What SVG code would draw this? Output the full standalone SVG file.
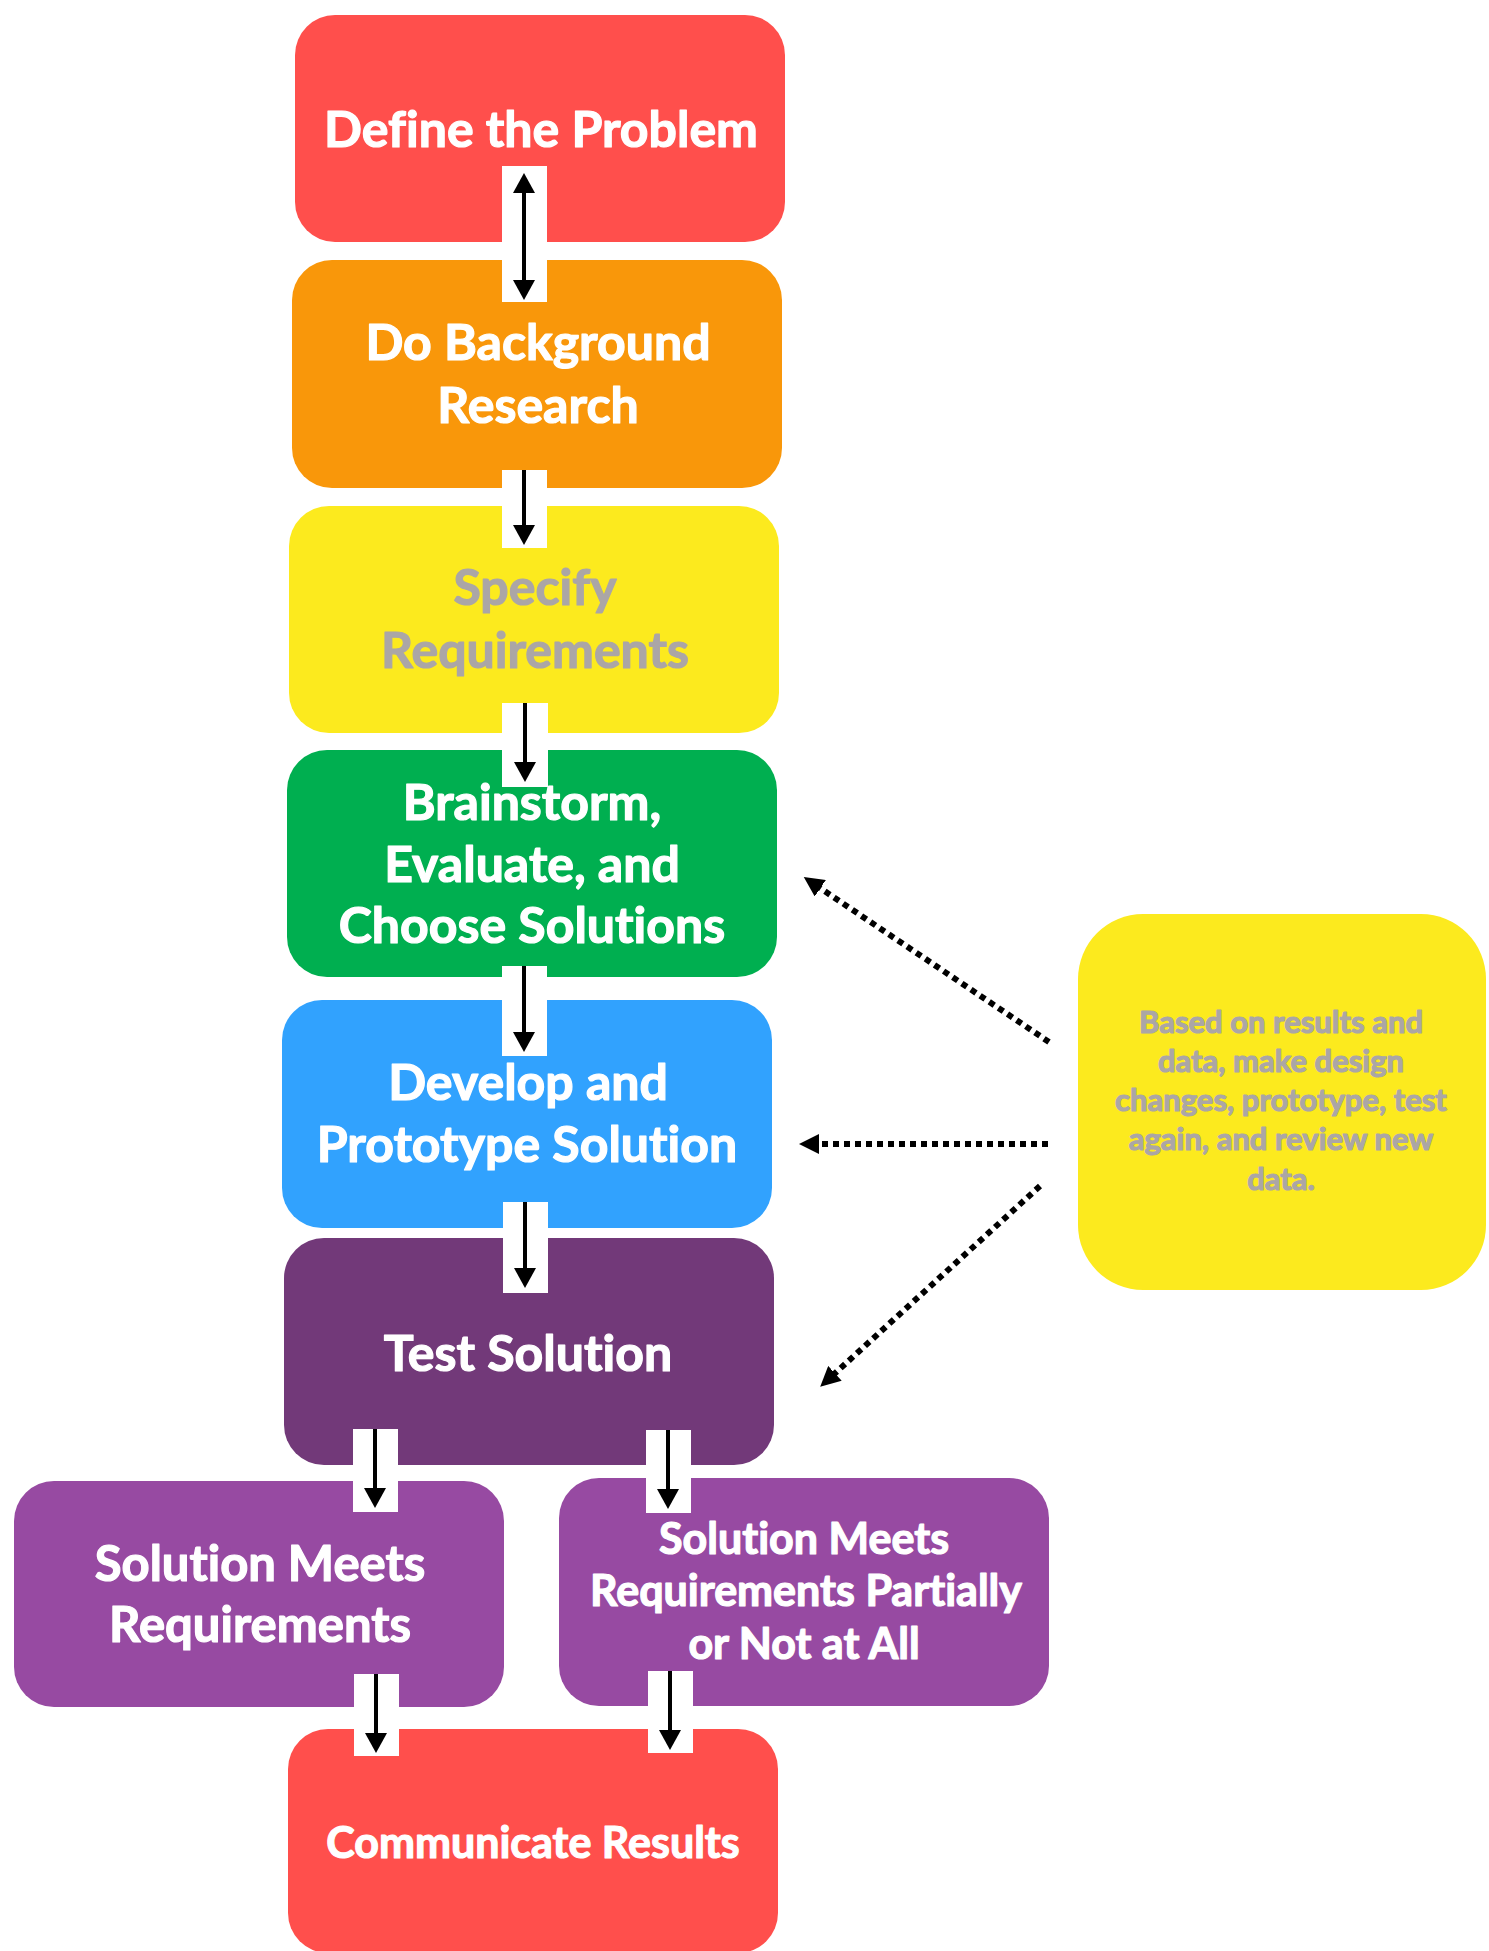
<svg xmlns="http://www.w3.org/2000/svg" width="1489" height="1951" viewBox="0 0 1489 1951">
<style>
.lbl{font-family:Lato,"Noto Sans","Liberation Sans",sans-serif;font-weight:700;text-anchor:middle;fill:#ffffff;stroke:#ffffff;stroke-width:1.2;stroke-linejoin:round;font-variant-ligatures:none;font-feature-settings:"liga" 0}
.grey{fill:#aba6a6;stroke:#aba6a6}
.gap{fill:#ffffff}
.solid{stroke:#000;stroke-width:4;fill:none}
.dot{stroke:#000;stroke-width:6;fill:none;stroke-dasharray:6 5}
</style>
<defs>
<marker id="ah" markerUnits="userSpaceOnUse" markerWidth="20" markerHeight="22" viewBox="0 0 20 22" refX="8" refY="11" orient="auto-start-reverse"><path d="M0,0 L20,11 L0,22 z" fill="#000"/></marker>
<marker id="ahd" markerUnits="userSpaceOnUse" markerWidth="20" markerHeight="20" viewBox="0 0 20 20" refX="4" refY="10" orient="auto"><path d="M0,0 L20,10 L0,20 z" fill="#000"/></marker>
</defs>
<rect width="1489" height="1951" fill="#ffffff"/>
<g id="define">
<rect x="295" y="15" width="490" height="227" rx="40" fill="#ff4f4c"/>
<text class="lbl" x="541" y="147" font-size="50">Define the Problem</text>
</g>
<g id="research">
<rect x="292" y="260" width="490" height="228" rx="40" fill="#f9970a"/>
<text class="lbl" x="538" y="360" font-size="50">Do Background</text>
<text class="lbl" x="538" y="423" font-size="50">Research</text>
</g>
<g id="specify">
<rect x="289" y="506" width="490" height="227" rx="40" fill="#fcea1e"/>
<text class="lbl grey" x="535" y="605" font-size="50">Specify</text>
<text class="lbl grey" x="535" y="668" font-size="50">Requirements</text>
</g>
<g id="brainstorm">
<rect x="287" y="750" width="490" height="227" rx="40" fill="#00af50"/>
<text class="lbl" x="532" y="820" font-size="50">Brainstorm,</text>
<text class="lbl" x="532" y="882" font-size="50">Evaluate, and</text>
<text class="lbl" x="532" y="943" font-size="50">Choose Solutions</text>
</g>
<g id="develop">
<rect x="282" y="1000" width="490" height="228" rx="40" fill="#31a2fe"/>
<text class="lbl" x="528" y="1100" font-size="50">Develop and</text>
<text class="lbl" x="527" y="1162" font-size="50">Prototype Solution</text>
</g>
<g id="test">
<rect x="284" y="1238" width="490" height="227" rx="40" fill="#723979"/>
<text class="lbl" x="528" y="1371" font-size="50">Test Solution</text>
</g>
<g id="meets">
<rect x="14" y="1481" width="490" height="226" rx="40" fill="#974aa2"/>
<text class="lbl" x="260" y="1581" font-size="49">Solution Meets</text>
<text class="lbl" x="260" y="1642" font-size="49">Requirements</text>
</g>
<g id="partial">
<rect x="559" y="1478" width="490" height="228" rx="40" fill="#974aa2"/>
<text class="lbl" x="804" y="1554" font-size="43">Solution Meets</text>
<text class="lbl" x="806" y="1606" font-size="43">Requirements Partially</text>
<text class="lbl" x="804" y="1659" font-size="43">or Not at All</text>
</g>
<g id="communicate">
<rect x="288" y="1729" width="490" height="224" rx="40" fill="#ff4f4c"/>
<text class="lbl" x="533" y="1858" font-size="43">Communicate Results</text>
</g>
<g id="iterate">
<rect x="1078" y="914" width="408" height="376" rx="65" fill="#fcea1e"/>
<text class="lbl grey" x="1281" y="1033" font-size="31">Based on results and</text>
<text class="lbl grey" x="1281" y="1072" font-size="31">data, make design</text>
<text class="lbl grey" x="1281" y="1111" font-size="31">changes, prototype, test</text>
<text class="lbl grey" x="1281" y="1150" font-size="31">again, and review new</text>
<text class="lbl grey" x="1281" y="1190" font-size="31">data.</text>
</g>
<g id="connectors">
<rect class="gap" x="502" y="166" width="45" height="136"/>
<line class="solid" x1="524" y1="185" x2="524" y2="288" marker-start="url(#ah)" marker-end="url(#ah)"/>
<rect class="gap" x="502" y="470" width="45" height="78"/>
<line class="solid" x1="524" y1="470" x2="524" y2="533" marker-end="url(#ah)"/>
<rect class="gap" x="502" y="703" width="46" height="84"/>
<line class="solid" x1="525" y1="703" x2="525" y2="770" marker-end="url(#ah)"/>
<rect class="gap" x="502" y="966" width="45" height="90"/>
<line class="solid" x1="524" y1="966" x2="524" y2="1040" marker-end="url(#ah)"/>
<rect class="gap" x="503" y="1202" width="45" height="91"/>
<line class="solid" x1="525" y1="1202" x2="525" y2="1276" marker-end="url(#ah)"/>
<rect class="gap" x="353" y="1429" width="45" height="83"/>
<line class="solid" x1="375" y1="1429" x2="375" y2="1496" marker-end="url(#ah)"/>
<rect class="gap" x="646" y="1430" width="45" height="83"/>
<line class="solid" x1="668" y1="1430" x2="668" y2="1497" marker-end="url(#ah)"/>
<rect class="gap" x="354" y="1674" width="45" height="82"/>
<line class="solid" x1="376" y1="1674" x2="376" y2="1741" marker-end="url(#ah)"/>
<rect class="gap" x="648" y="1671" width="45" height="82"/>
<line class="solid" x1="670" y1="1671" x2="670" y2="1738" marker-end="url(#ah)"/>
<line class="dot" x1="1049" y1="1042" x2="817" y2="886" marker-end="url(#ahd)"/>
<line class="dot" x1="1048" y1="1144" x2="815" y2="1144" marker-end="url(#ahd)"/>
<line class="dot" x1="1040" y1="1186" x2="832" y2="1376" marker-end="url(#ahd)"/>
</g>
</svg>
